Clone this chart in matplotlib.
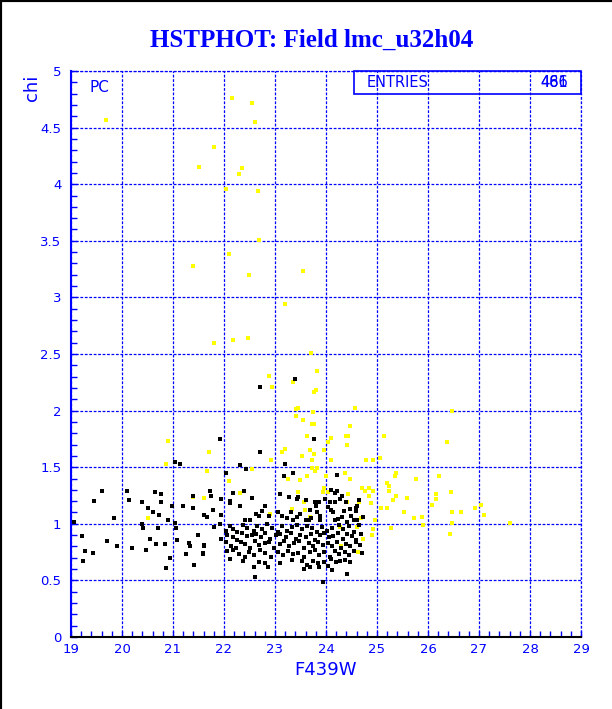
import matplotlib
matplotlib.use("Agg")
import matplotlib.pyplot as plt
from matplotlib.ticker import MultipleLocator, FuncFormatter
from matplotlib.lines import Line2D
from matplotlib.patches import Rectangle

plt.rcParams['lines.scale_dashes'] = False

title = "HSTPHOT: Field lmc_u32h04"
x_label = "F439W"
y_label = "chi"
corner_label = "PC"
stats_label = "ENTRIES"
stats_values = ["486", "461"]

# yellow points (F439W, chi)
yx = [19.68, 22.15, 22.54, 22.60, 21.80, 21.51, 22.35, 22.29, 22.03, 22.66, 22.69, 22.10, 21.40,
      22.49, 23.54, 23.19, 21.80, 22.18, 22.48, 23.70, 23.82, 22.88, 22.95, 23.35, 23.80, 23.76,
      23.45, 23.42, 23.74, 24.56, 23.41, 23.54, 23.73, 23.76, 24.47, 23.62, 24.09, 24.04, 24.39,
      24.44, 24.41, 25.14, 26.48, 26.37, 25.06, 25.37, 25.35, 25.76, 26.22, 25.20, 25.23, 25.23,
      25.37, 25.31, 25.58, 26.16, 26.16, 26.45, 26.08, 25.08, 25.19, 25.53, 25.73, 25.88, 26.47,
      26.64, 26.92, 27.03, 27.10, 26.48, 25.90, 27.61, 25.27, 26.43, 21.70, 21.66, 21.61, 22.31,
      22.92, 23.19, 23.14, 22.55, 22.09, 23.25, 23.53, 23.69, 23.76, 23.73, 23.97, 24.09, 24.78,
      24.92, 23.73, 23.82, 23.78, 23.50, 23.62, 24.00, 24.47, 24.37, 23.96, 23.94, 24.04, 23.46,
      23.57, 24.44, 24.41, 24.71, 24.76, 24.84, 24.84, 24.92, 24.64, 24.88, 23.58, 23.69, 23.33,
      22.90, 24.68, 24.97, 24.27, 24.61, 24.92, 24.90, 24.73, 24.63, 24.29, 20.90, 20.86, 20.51,
      21.39]
yy = [4.57, 4.76, 4.72, 4.55, 4.33, 4.15, 4.14, 4.09, 3.96, 3.94, 3.51, 3.38, 3.28,
      3.20, 3.23, 2.94, 2.60, 2.62, 2.64, 2.51, 2.35, 2.31, 2.21, 2.25, 2.18, 2.16,
      2.02, 2.01, 1.99, 2.02, 1.95, 1.92, 1.88, 1.88, 1.86, 1.78, 1.76, 1.72, 1.78,
      1.78, 1.70, 1.78, 2.00, 1.72, 1.58, 1.45, 1.42, 1.40, 1.42, 1.36, 1.33, 1.29,
      1.25, 1.21, 1.23, 1.26, 1.22, 1.28, 1.17, 1.14, 1.14, 1.10, 1.05, 1.06, 1.10,
      1.10, 1.14, 1.17, 1.08, 1.01, 0.99, 1.01, 0.96, 0.91, 1.63, 1.47, 1.23, 1.27,
      1.56, 1.66, 1.63, 1.48, 1.38, 1.40, 1.60, 1.65, 1.62, 1.56, 1.65, 1.56, 1.56,
      1.56, 1.49, 1.49, 1.47, 1.39, 1.42, 1.42, 1.40, 1.45, 1.32, 1.28, 1.28, 1.28,
      1.19, 1.26, 1.19, 1.32, 1.29, 1.32, 1.25, 1.29, 1.19, 1.18, 1.12, 1.06, 1.13,
      1.09, 1.05, 1.03, 0.97, 0.97, 0.95, 0.90, 0.87, 0.75, 0.80, 1.73, 1.53, 1.05,
      1.24]

# black points (F439W, chi)
bx = [
    21.03, 21.14, 19.61, 20.09, 19.46, 20.13, 20.39, 20.65, 20.76, 20.76, 20.51, 20.60, 20.72,
    20.98, 21.19, 21.40, 21.39, 21.61, 19.84, 19.06, 20.39, 21.03, 20.90, 20.41, 20.71, 21.05,
    19.22, 19.70, 20.55, 21.07, 21.50, 21.31, 19.27, 19.43, 19.90, 20.20, 20.47, 20.67, 20.85,
    21.33, 21.61, 21.58, 21.25, 20.94, 19.23, 21.41, 20.86,
    23.39, 22.70, 21.93, 23.76,
    22.71, 22.31, 22.44, 23.19,
    22.03, 23.18, 23.35, 24.21, 21.73, 21.75, 21.94, 22.11, 22.54, 23.10, 23.28, 23.45, 23.43,
    23.61, 23.79, 23.87, 23.99, 24.09, 24.17, 24.21, 24.07, 24.18, 24.28, 24.31, 24.35, 24.39,
    24.48, 24.58, 24.61, 24.64, 24.59, 24.50, 24.31, 24.14, 24.04, 24.09, 23.80, 23.82, 23.88,
    23.69, 23.50, 23.43, 23.36, 23.24, 23.05, 23.14, 22.89, 22.81, 22.75, 22.63, 22.68, 22.51,
    22.42, 22.31, 22.12, 21.94, 21.78, 21.66, 22.39, 22.17, 23.31, 24.17, 24.24, 24.42, 24.54,
    24.60, 24.72, 23.60, 23.67, 23.71, 23.88,
    21.80, 21.92, 22.03, 22.11, 22.18, 22.26, 22.38, 22.45, 22.58, 22.65, 22.75, 22.84, 22.94,
    23.06, 23.14, 23.24, 23.33, 23.44, 23.53, 23.62, 23.73, 23.82, 23.92, 24.01, 24.12, 24.25,
    24.34, 24.45, 24.55, 24.64,
    21.95, 22.05, 22.17, 22.26, 22.35, 22.45, 22.54, 22.63, 22.72, 22.81, 22.90, 23.01, 23.10,
    23.22, 23.31, 23.41, 23.50, 23.60, 23.70, 23.79, 23.88, 23.96, 24.05, 24.13, 24.24, 24.33,
    24.42, 24.51, 24.59, 24.68,
    21.60, 22.04, 22.14, 22.24, 22.33, 22.42, 22.51, 22.60, 22.69, 22.80, 22.89, 22.98, 23.09,
    23.18, 23.27, 23.37, 23.48, 23.57, 23.66, 23.75, 23.84, 23.94, 24.03, 24.11, 24.21, 24.30,
    24.39, 24.48, 24.58, 24.67,
    21.58, 22.05, 22.18, 22.29, 22.41, 22.50, 22.59, 22.71, 22.81, 22.92, 23.05, 23.15, 23.26,
    23.36, 23.46, 23.56, 23.69, 23.78, 23.86, 23.96, 24.08, 24.17, 24.26, 24.37, 24.46, 24.54,
    24.71,
    22.11, 22.37, 22.58, 22.68, 22.81, 22.86, 23.10, 23.33, 23.52, 23.63, 23.75, 23.84, 23.97,
    24.09, 24.20, 24.27, 24.38, 24.48,
    22.60, 23.57, 24.03, 24.41, 24.12, 23.87, 23.69, 23.95]
by = [
    1.55, 1.53, 1.29, 1.29, 1.20, 1.21, 1.19, 1.28, 1.26, 1.19, 1.14, 1.10, 1.08,
    1.16, 1.16, 1.25, 1.14, 1.08, 1.05, 1.02, 1.00, 1.01, 1.03, 0.96, 0.96, 0.96,
    0.89, 0.85, 0.87, 0.86, 0.90, 0.83, 0.76, 0.74, 0.80, 0.79, 0.77, 0.82, 0.82,
    0.80, 0.80, 0.73, 0.73, 0.70, 0.67, 0.64, 0.61,
    2.28, 2.21, 1.75, 1.75,
    1.63, 1.52, 1.48, 1.53,
    1.45, 1.42, 1.45, 1.43, 1.29, 1.25, 1.22, 1.20, 1.23, 1.26, 1.24, 1.24, 1.22,
    1.21, 1.19, 1.19, 1.22, 1.30, 1.27, 1.29, 1.19, 1.19, 1.22, 1.25, 1.11, 1.19,
    1.13, 1.14, 1.16, 1.21, 1.11, 1.07, 1.06, 1.10, 1.15, 1.12, 1.16, 1.10, 1.07,
    1.12, 1.09, 1.06, 1.03, 1.05, 1.10, 1.07, 1.07, 1.16, 1.11, 1.09, 1.07, 1.03,
    1.03, 1.16, 1.18, 1.08, 1.12, 1.06, 1.29, 1.27, 1.10, 1.03, 1.04, 1.02, 1.03,
    1.03, 1.06, 1.03, 1.03, 1.05, 1.03,
    0.97, 1.00, 0.94, 0.98, 0.95, 0.93, 0.99, 0.96, 0.94, 0.98, 0.95, 1.00, 0.96,
    0.93, 0.98, 0.94, 0.97, 0.99, 0.95, 0.98, 0.96, 0.93, 0.97, 0.94, 0.96, 0.99,
    0.95, 0.98, 0.93, 0.99,
    0.87, 0.90, 0.88, 0.86, 0.92, 0.89, 0.90, 0.91, 0.88, 0.92, 0.87, 0.90, 0.91,
    0.88, 0.92, 0.87, 0.90, 0.88, 0.91, 0.86, 0.90, 0.92, 0.88, 0.89, 0.92, 0.87,
    0.91, 0.89, 0.86, 0.91,
    0.81, 0.84, 0.80, 0.79, 0.84, 0.82, 0.79, 0.85, 0.81, 0.83, 0.84, 0.79, 0.82,
    0.85, 0.80, 0.83, 0.85, 0.79, 0.83, 0.80, 0.84, 0.81, 0.83, 0.80, 0.84, 0.79,
    0.82, 0.80, 0.84, 0.81,
    0.74, 0.76, 0.77, 0.73, 0.71, 0.75, 0.72, 0.77, 0.74, 0.71, 0.75, 0.72, 0.76,
    0.73, 0.74, 0.71, 0.75, 0.77, 0.72, 0.75, 0.71, 0.76, 0.73, 0.75, 0.72, 0.76,
    0.74,
    0.69, 0.67, 0.62, 0.66, 0.65, 0.62, 0.65, 0.68, 0.67, 0.64, 0.67, 0.65, 0.66,
    0.69, 0.66, 0.67, 0.68, 0.66,
    0.53, 0.60, 0.63, 0.56, 0.59, 0.62, 0.62, 0.49]

BLUE = '#0000ff'
fig = plt.figure(figsize=(6.12, 7.09), dpi=100)
fig.patch.set_facecolor('white')
ax = fig.add_axes([71/612, 1-637/709, 510/612, 566/709])
ax.set_xlim(19, 29)
ax.set_ylim(0, 5)

ax.scatter(yx, yy, marker='s', s=5.5, color='#ffff00', linewidths=0, zorder=3,
           antialiased=False)
ax.scatter(bx, by, marker='s', s=5.5, color='black', linewidths=0, zorder=4,
           antialiased=False)

ax.xaxis.set_major_locator(MultipleLocator(1))
ax.xaxis.set_minor_locator(MultipleLocator(0.2))
ax.yaxis.set_major_locator(MultipleLocator(0.5))
ax.yaxis.set_minor_locator(MultipleLocator(0.1))
ax.yaxis.set_major_formatter(FuncFormatter(lambda v, p: '%g' % v))
ax.xaxis.set_major_formatter(FuncFormatter(lambda v, p: '%g' % v))
ax.tick_params(which='both', direction='in', color=BLUE, length=4, width=1,
               top=False, right=False, labelcolor=BLUE, labelsize=9.5)
ax.tick_params(axis='x', pad=4)
ax.tick_params(axis='y', pad=7)
for lab in ax.get_xticklabels() + ax.get_yticklabels():
    lab.set_family('DejaVu Sans')

ax.grid(True, which='major', color=BLUE, linestyle=(0, (2.0, 1.2)), linewidth=0.9, zorder=1)
ax.set_axisbelow(True)
ax.spines['top'].set_visible(False)
ax.spines['right'].set_visible(False)
ax.spines['left'].set_color(BLUE)
ax.spines['left'].set_linewidth(1.5)
ax.spines['bottom'].set_color('black')
ax.spines['bottom'].set_linewidth(1.5)
ax.axhline(5, color=BLUE, linestyle=(0, (2.0, 1.2)), linewidth=0.9, clip_on=False)
ax.axvline(29, color=BLUE, linestyle=(0, (2.0, 1.2)), linewidth=0.9, clip_on=False)

# stats box
ax.add_patch(Rectangle((0.555, 0.959), 0.445, 0.041, transform=ax.transAxes,
                       fill=False, edgecolor=BLUE, linewidth=1.2, clip_on=False, zorder=5))
ax.text(0.58, 0.9795, stats_label, transform=ax.transAxes, color=BLUE, fontsize=10.5,
        ha='left', va='center', zorder=6)
for v in stats_values:
    ax.text(0.975, 0.9795, v, transform=ax.transAxes, color=BLUE, fontsize=10.5,
            ha='right', va='center', zorder=6)

ax.text(0.055, 0.97, corner_label, transform=ax.transAxes, color=BLUE, fontsize=11,
        ha='center', va='center')

ax.set_xlabel(x_label, color=BLUE, fontsize=13, labelpad=4)
fig.text(32/612, 1-88/709, y_label, rotation=90, color=BLUE, fontsize=13,
         ha='center', va='center')

fig.text(312/612, 1-40/709, title, color=BLUE, fontsize=18, fontweight='bold',
         family='Liberation Serif', ha='center', va='center')

fig.add_artist(Line2D([0, 0], [0, 1], transform=fig.transFigure, color='black', lw=3))
fig.add_artist(Line2D([0, 1], [1, 1], transform=fig.transFigure, color='black', lw=3))

fig.savefig('out.png', dpi=100)
